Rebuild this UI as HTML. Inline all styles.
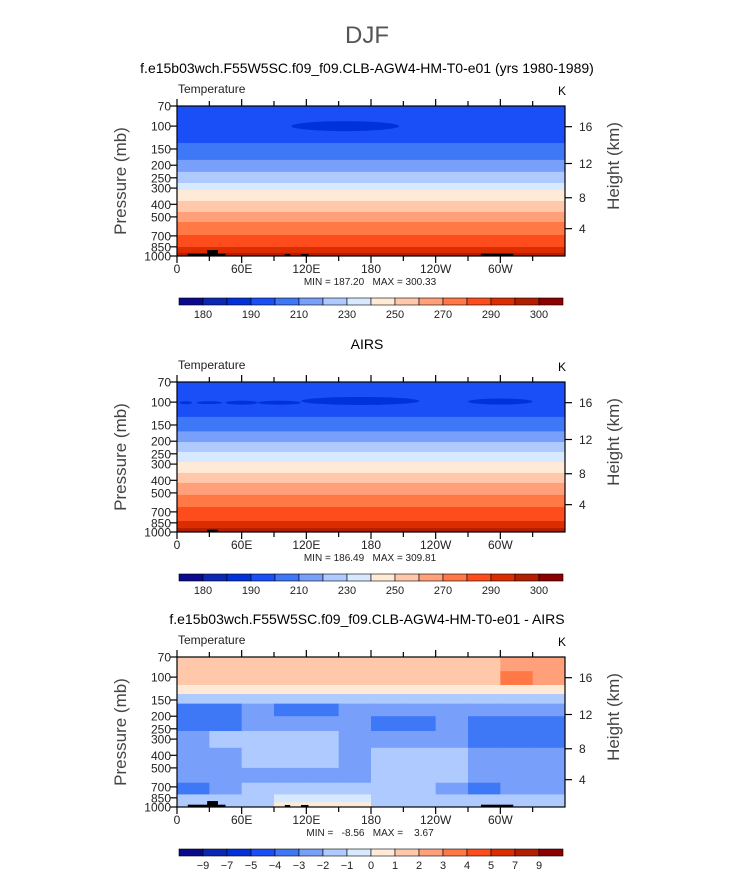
<!DOCTYPE html>
<html><head><meta charset="utf-8">
<style>
html,body{margin:0;padding:0;background:#fff;}
body{width:733px;height:872px;overflow:hidden;font-family:"Liberation Sans",sans-serif;}
svg text{font-family:"Liberation Sans",sans-serif;fill:#000;}
</style></head>
<body>
<svg id="chart" width="733" height="872" viewBox="0 0 733 872" xmlns="http://www.w3.org/2000/svg">
<text x="367" y="43" font-size="24" text-anchor="middle" style="fill:#555">DJF</text>
</svg>
<script>
// ---------- data ----------
const palette = ["#0a0a8c","#0a28b4","#0032dc","#1a4ff8","#3f78f7","#78a0fa","#afcaff","#d7e9ff","#ffead7","#ffc8aa","#ffa07a","#ff7846","#ff4c1c","#dc2d00","#b41e00","#8c0000"];
const pressureTicks = [70,100,150,200,250,300,400,500,700,850,1000];
const heightTicks = [4,8,12,16];
const heightTickP = [616,356,194,101];
const lonTicks = [0,60,120,180,240,300];
const lonTickLabels = ["0","60E","120E","180","120W","60W"];
const tempBarLabels = ["180","190","210","230","250","270","290","300"];
const diffBarLabels = ["−9","−7","−5","−4","−3","−2","−1","0","1","2","3","4","5","7","9"];
const p1Bounds = [70,135,182,225,274,310,377,458,547,689,853,947,1000];
const p2Bounds = [70,130,168,203,242,289,351,419,518,642,823,932,1000];
const bandColors = [3,4,5,6,7,8,9,10,11,12,13,14];
const p1Cold = [[156,100,50,5]];
const p2Cold = [[170,98,55,4],[300,99,30,3],[95,101,20,2],[60,101,15,2],[30,101,12,1.5],[8,101,6,1.5]];
const p1Topo = [[10,45,960],[28,38,900],[100,105,965],[115,122,965],[282,312,960]];
const p2Topo = [[28,38,960]];
const p3Topo = [[10,45,960],[28,38,900],[100,105,965],[115,122,965],[282,312,960]];
const diffP = [70,90,115,135,160,200,260,350,500,650,800,920,1000];
const diffLevels = [-9,-7,-5,-4,-3,-2,-1,0,1,2,3,4,5,7,9];
const diffRows = [
 [1.5,1.5,1.5,1.5,1.5,1.5,1.5,1.5,1.5,1.5,2.5,2.5],
 [1.5,1.5,1.5,1.5,1.5,1.5,1.5,1.5,1.5,1.5,3.5,2.5],
 [0.5,0.5,0.5,0.5,0.5,0.5,0.5,0.5,0.5,0.5,0.5,0.5],
 [-1.5,-1.5,-1.5,-1.5,-1.5,-1.5,-1.5,-1.5,-1.5,-1.5,-1.5,-1.5],
 [-3.5,-3.5,-2.5,-3.5,-3.5,-2.5,-2.5,-2.5,-2.5,-2.5,-2.5,-2.5],
 [-3.5,-3.5,-2.5,-2.5,-2.5,-2.5,-3.5,-3.5,-2.5,-3.5,-3.5,-3.5],
 [-2.5,-1.5,-1.5,-1.5,-1.5,-2.5,-2.5,-2.5,-2.5,-3.5,-3.5,-3.5],
 [-2.5,-2.5,-1.5,-1.5,-1.5,-2.5,-1.5,-1.5,-1.5,-2.5,-2.5,-2.5],
 [-2.5,-2.5,-2.5,-2.5,-2.5,-2.5,-1.5,-1.5,-1.5,-2.5,-2.5,-2.5],
 [-3.5,-2.5,-1.5,-1.5,-1.5,-1.5,-1.5,-1.5,-2.5,-3.5,-2.5,-2.5],
 [-1.5,-1.5,-1.5,-0.5,-0.5,-0.5,-1.5,-1.5,-1.5,-1.5,-1.5,-1.5],
 [-1.5,-1.5,-1.5,0.5,0.5,0.5,-1.5,-1.5,-1.5,-1.5,-1.5,-1.5]
];
// ---------- drawing ----------
const NS="http://www.w3.org/2000/svg";
const svg=document.getElementById('chart');
const X0=177,X1=565,H=150;
function el(tag,attrs,parent){const e=document.createElementNS(NS,tag);for(const k in attrs)e.setAttribute(k,attrs[k]);(parent||svg).appendChild(e);return e;}
function xLon(lon){return X0+lon/360*(X1-X0);}
function yP(top,p){return top+H*Math.log(p/70)/Math.log(1000/70);}
function levelIndex(v){let i=0;while(i<diffLevels.length&&v>diffLevels[i])i++;return i;}

function panel(k,top,title,titleSize){
  const g=el('g',{});
  
  
  const t=el('text',{x:367,y:top-33,'font-size':titleSize,'text-anchor':'middle'},g);t.textContent=title;
  
  
  const v=el('text',{x:178,y:top-13,'font-size':12,style:'fill:#222'},g);v.textContent='Temperature';
  
  
  const u=el('text',{x:562,y:top-11,'font-size':12,'text-anchor':'middle'},g);u.textContent='K';
  
  
  const plot=el('g',{},g);
  
  
  return {g,plot,top};
}
function axes(P,minmax,bars,barLabelsOffset){
  const {g,top}=P;
  el('rect',{x:X0,y:top,width:X1-X0,height:H,fill:'none',stroke:'#000','stroke-width':1.2},g);
  pressureTicks.forEach(p=>{const y=yP(top,p);
    el('line',{x1:X0-7,x2:X0,y1:y,y2:y,stroke:'#000','stroke-width':1.2},g);
    const t=el('text',{x:171,y:y+4.5,'font-size':12,'text-anchor':'end',style:'fill:#222'},g);t.textContent=p;
    
    });
  heightTicks.forEach((h,i)=>{const y=yP(top,heightTickP[i]);
    el('line',{x1:X1,x2:X1+7,y1:y,y2:y,stroke:'#000','stroke-width':1.2},g);
    const t=el('text',{x:579,y:y+4.5,'font-size':12,style:'fill:#222'},g);t.textContent=h;
    
    });
  for(let lon=0;lon<360;lon+=30){const x=xLon(lon),L=(lon%60===0)?7:5;
    el('line',{x1:x,x2:x,y1:top+H,y2:top+H+L,stroke:'#000','stroke-width':1.2},g);
    el('line',{x1:x,x2:x,y1:top,y2:top-L,stroke:'#000','stroke-width':1.2},g);}
  lonTicks.forEach((lon,i)=>{const t=el('text',{x:xLon(lon),y:top+H+17,'font-size':12,'text-anchor':'middle',style:'fill:#222'},g);t.textContent=lonTickLabels[i];
    
    });
  const yl=el('text',{x:0,y:0,'font-size':17,'text-anchor':'middle',style:'fill:#444',transform:`translate(126,${top+75}) rotate(-90)`},g);yl.textContent='Pressure (mb)';
  
  
  const yr=el('text',{x:0,y:0,'font-size':17,'text-anchor':'middle',style:'fill:#444',transform:`translate(619,${top+60}) rotate(-90)`},g);yr.textContent='Height (km)';
  
  
  const mm=el('text',{x:370,y:top+H+29,'font-size':10,'text-anchor':'middle',style:'white-space:pre;fill:#222'},g);mm.textContent=minmax;
  
  
  const cb=el('g',{},g);
  
  
  const bx=179,bw=(563-179)/16,by=top+H+42;
  palette.forEach((c,i)=>{const r=el('rect',{x:bx+i*bw,y:by,width:bw,height:7,fill:c,stroke:'#000','stroke-width':0.6},cb);
    
    });
  bars.forEach((lab,i)=>{const idx=barLabelsOffset[i];const t=el('text',{x:bx+idx*bw,y:by+20,'font-size':11,'text-anchor':'middle',style:'fill:#222'},cb);t.textContent=lab;
    
    });
}
function bands(P,bounds,cold,topo){
  const {plot,top}=P;
  for(let i=0;i<bounds.length-1;i++){
    const y0=yP(top,bounds[i]),y1=yP(top,bounds[i+1]);
    const r=el('rect',{x:X0,y:y0,width:X1-X0,height:y1-y0+0.5,fill:palette[bandColors[i]]},plot);
    
    
  }
  cold.forEach(c=>{const e=el('ellipse',{cx:xLon(c[0]),cy:yP(top,c[1]),rx:c[2]/360*(X1-X0),ry:c[3],fill:palette[2]},plot);
    
    });
  topoDraw(P,topo);
}
function topoDraw(P,topo){
  topo.forEach(t=>{const y=yP(P.top,t[2]);const r=el('rect',{x:xLon(t[0]),y:y,width:xLon(t[1])-xLon(t[0]),height:P.top+H-y,fill:'#000'},P.plot);
    
    });
}
function grid(P){
  const {plot,top}=P;
  diffRows.forEach((row,ri)=>{const y0=yP(top,diffP[ri]),y1=yP(top,diffP[ri+1]);
    row.forEach((v,ci)=>{const x0=xLon(ci*30),x1=xLon(ci*30+30);
      const r=el('rect',{x:x0,y:y0,width:x1-x0+0.5,height:y1-y0+0.5,fill:palette[levelIndex(v)]},plot);
      
      });});
  topoDraw(P,p3Topo);
}
const tempLabelIdx=[1,3,5,7,9,11,13,15];
const diffLabelIdx=[1,2,3,4,5,6,7,8,9,10,11,12,13,14,15];
const P1=panel(1,106,'f.e15b03wch.F55W5SC.f09_f09.CLB-AGW4-HM-T0-e01 (yrs 1980-1989)',14);
bands(P1,p1Bounds,p1Cold,p1Topo);
axes(P1,'MIN = 187.20   MAX = 300.33',tempBarLabels,tempLabelIdx);
const P2=panel(2,382,'AIRS',14);
bands(P2,p2Bounds,p2Cold,p2Topo);
axes(P2,'MIN = 186.49   MAX = 309.81',tempBarLabels,tempLabelIdx);
const P3=panel(3,657,'f.e15b03wch.F55W5SC.f09_f09.CLB-AGW4-HM-T0-e01 - AIRS',14);
grid(P3);
axes(P3,'MIN =   -8.56   MAX =    3.67',diffBarLabels,diffLabelIdx);
</script>
</body></html>
